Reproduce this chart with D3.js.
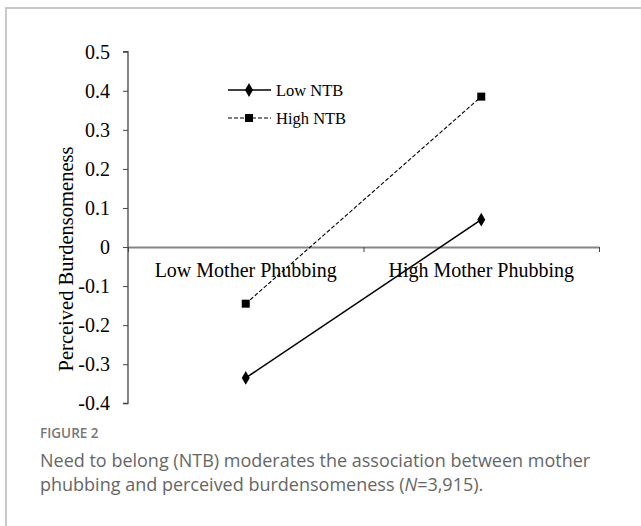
<!DOCTYPE html>
<html>
<head>
<meta charset="utf-8">
<script src="https://cdn.jsdelivr.net/npm/d3@7"></script>
<style>
  html, body { margin: 0; padding: 0; background: #fff; }
  svg { display: block; }
</style>
</head>
<body>
<div id="chart"></div>
<script>
// values
var categories = ["Low Mother Phubbing", "High Mother Phubbing"];
var seriesNames = ["Low NTB", "High NTB"];
var lowNTB = [-0.335, 0.07];
var highNTB = [-0.145, 0.385];
var yTicks = [0.5, 0.4, 0.3, 0.2, 0.1, 0, -0.1, -0.2, -0.3, -0.4];

var width = 641, height = 526;
var serif = "'Liberation Serif', 'Times New Roman', serif";
var sans = "'Open Sans', 'Noto Sans', sans-serif";

var svg = d3.select("#chart").append("svg")
    .attr("width", width)
    .attr("height", height);

// figure frame (top + left only)
svg.append("path")
    .attr("d", "M6,526 V8 H641")
    .attr("fill", "none")
    .attr("stroke", "#c8c8c8")
    .attr("stroke-width", 2);

var y = d3.scaleLinear().domain([-0.4, 0.5]).range([403.3, 51.7]);
var x = d3.scaleBand().domain(categories).range([128, 599]);
var xEdge = d3.scaleLinear().domain([0, categories.length]).range([128, 599]);

// y axis
var gy = svg.append("g")
    .attr("transform", "translate(128,0)")
    .call(d3.axisLeft(y)
        .tickValues(yTicks)
        .tickSize(5)
        .tickPadding(13)
        .tickFormat(function(d) { return d === 0 ? "0" : d.toFixed(1); }));
gy.select(".domain").attr("stroke", "#444").attr("stroke-width", 1.3)
    .attr("d", "M-5," + y(0.5) + "H0V" + y(-0.4) + "H-5");
gy.selectAll(".tick line").attr("stroke", "#444");
gy.selectAll(".tick text")
    .attr("font-family", serif)
    .attr("font-size", 20)
    .attr("fill", "#000");

// zero line with ticks at category edges
var gx = svg.append("g")
    .attr("transform", "translate(0," + y(0) + ")")
    .call(d3.axisBottom(xEdge)
        .tickValues(d3.range(categories.length + 1))
        .tickSize(5)
        .tickSizeOuter(0)
        .tickFormat(""));
gx.select(".domain").attr("stroke", "#868686").attr("stroke-width", 2);
gx.selectAll(".tick line").attr("stroke", "#444");

// category labels
svg.append("g").selectAll("text")
    .data(categories)
    .join("text")
    .attr("x", function(d) { return x(d) + x.bandwidth() / 2; })
    .attr("y", y(0) + 30)
    .attr("text-anchor", "middle")
    .attr("font-family", serif)
    .attr("font-size", 20)
    .attr("fill", "#000")
    .text(function(d) { return d; });

// y title
svg.append("text")
    .attr("transform", "translate(73,259) rotate(-90)")
    .attr("text-anchor", "middle")
    .attr("font-family", serif)
    .attr("font-size", 20.5)
    .attr("fill", "#000")
    .text("Perceived Burdensomeness");

var series = [
    { name: seriesNames[0], values: lowNTB, dash: null, width: 1.5, marker: d3.symbolDiamond, size: 55 },
    { name: seriesNames[1], values: highNTB, dash: "4,2", width: 1.1, marker: d3.symbolSquare, size: 64 }
];

var line = d3.line()
    .x(function(d, i) { return x(categories[i]) + x.bandwidth() / 2; })
    .y(function(d) { return y(d); });

series.forEach(function(s) {
    svg.append("path")
        .datum(s.values)
        .attr("d", line)
        .attr("fill", "none")
        .attr("stroke", "#000")
        .attr("stroke-width", s.width)
        .attr("stroke-dasharray", s.dash);
    svg.append("g").selectAll("path")
        .data(s.values)
        .join("path")
        .attr("transform", function(d, i) {
            return "translate(" + (x(categories[i]) + x.bandwidth() / 2) + "," + y(d) + ")";
        })
        .attr("d", d3.symbol().type(s.marker).size(s.size))
        .attr("fill", "#000");
});

// legend
var legend = svg.append("g");
series.forEach(function(s, i) {
    var ly = 90 + i * 28;
    legend.append("line")
        .attr("x1", 228).attr("x2", 271)
        .attr("y1", ly).attr("y2", ly)
        .attr("stroke", "#000")
        .attr("stroke-width", s.width)
        .attr("stroke-dasharray", s.dash);
    legend.append("path")
        .attr("transform", "translate(249," + ly + ")")
        .attr("d", d3.symbol().type(s.marker).size(s.size))
        .attr("fill", "#000");
    legend.append("text")
        .attr("x", 276)
        .attr("y", ly + 5.5)
        .attr("font-family", serif)
        .attr("font-size", 16.5)
        .attr("fill", "#000")
        .text(s.name);
});

// caption
svg.append("text")
    .attr("x", 40).attr("y", 438)
    .attr("font-family", sans)
    .attr("font-size", 13.5)
    .attr("font-weight", 600)
    .attr("fill", "#777")
    .text("FIGURE 2");

var cap = svg.append("g")
    .attr("font-family", sans)
    .attr("font-size", 18)
    .attr("fill", "#666");
cap.append("text").attr("x", 40).attr("y", 467)
    .text("Need to belong (NTB) moderates the association between mother");
var l2 = cap.append("text").attr("x", 40).attr("y", 491);
l2.append("tspan").text("phubbing and perceived burdensomeness (");
l2.append("tspan").attr("font-style", "italic").text("N");
l2.append("tspan").text("=3,915).");
</script>
</body>
</html>
